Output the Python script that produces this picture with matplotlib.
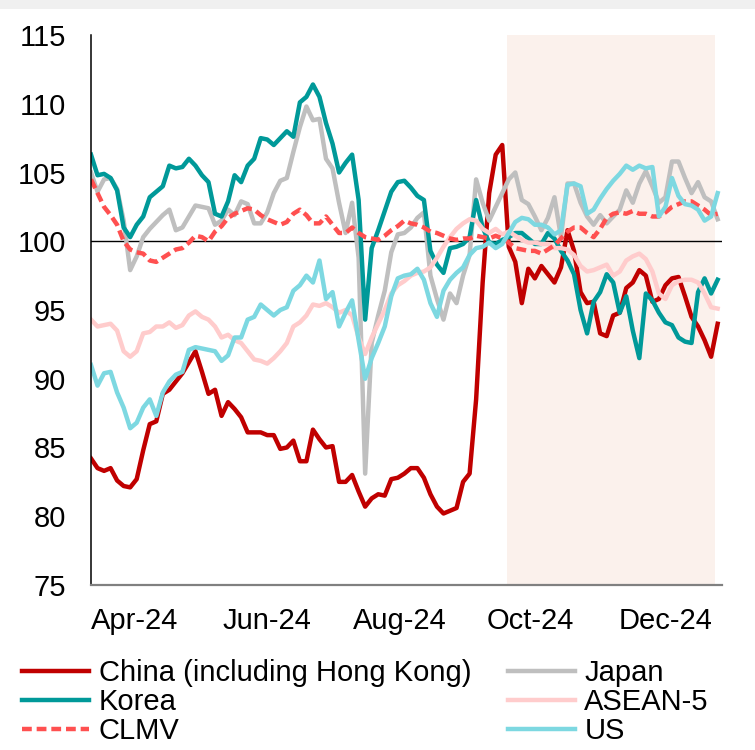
#!/usr/bin/env python
"""plot.py — equity indices rebased to 100, with the post-stimulus window shaded."""
import matplotlib
matplotlib.use("Agg")
import matplotlib.dates as mdates
import matplotlib.pyplot as plt
import pandas as pd
from matplotlib.patches import Rectangle

OUT = "out.png"

# one reading every 3 calendar days
DATES = pd.date_range("2024-04-02", periods=97, freq="3D")

china = [84.2, 83.5, 83.3, 83.5, 82.6, 82.2, 82.1, 82.7, 84.8, 86.7,
         86.9, 88.9, 89.2, 89.8, 90.4, 91.2, 92.0, 90.5, 88.9, 89.2,
         87.3, 88.3, 87.8, 87.2, 86.1, 86.1, 86.1, 85.9, 85.9, 84.9,
         85.0, 85.5, 84.0, 84.0, 86.3, 85.6, 85.0, 85.1, 82.5, 82.5,
         83.0, 81.8, 80.7, 81.3, 81.6, 81.5, 82.7, 82.8, 83.1, 83.5,
         83.5, 82.8, 81.6, 80.7, 80.2, 80.4, 80.6, 82.5, 83.1, 88.5,
         97.0, 103.5, 106.3, 107.0, 99.6, 98.5, 95.5, 98.0, 97.3, 98.2,
         97.6, 97.0, 98.1, 100.8, 99.3, 96.3, 95.5, 95.6, 93.3, 93.1,
         94.6, 94.8, 96.6, 97.0, 97.9, 97.5, 95.6, 95.8, 96.8, 97.3,
         97.4, 96.0, 94.5, 93.8, 92.8, 91.6, 94.0]
korea = [106.3, 104.8, 104.9, 104.6, 103.7, 101.0, 100.3, 101.2, 101.8, 103.2,
         103.6, 104.0, 105.5, 105.3, 105.4, 106.0, 105.5, 104.8, 104.3, 102.0,
         101.8, 102.9, 104.8, 104.3, 105.5, 106.0, 107.5, 107.4, 107.0, 107.5,
         108.0, 107.6, 110.1, 110.5, 111.4, 110.5, 108.6, 107.1, 105.0, 105.7,
         106.3, 103.0, 94.3, 99.5, 100.8, 102.2, 103.6, 104.3, 104.4, 103.9,
         103.3, 103.0, 99.3, 98.3, 97.7, 99.5, 99.6, 99.8, 100.3, 103.0,
         101.0, 99.9, 99.8, 100.1, 100.3, 100.6, 100.6, 100.2, 99.8, 99.8,
         100.6, 100.2, 99.3, 98.6, 97.6, 95.0, 93.3, 95.6, 96.3, 97.6,
         97.0, 94.8, 96.0, 93.5, 91.5, 96.2, 95.7, 94.8, 94.1, 93.9,
         93.0, 92.7, 92.6, 96.3, 97.3, 96.2, 97.2]
clmv = [104.5, 103.5, 102.5, 101.9, 101.2, 100.0, 99.4, 99.2, 99.1, 98.6,
        98.5, 98.8, 99.1, 99.4, 99.5, 99.9, 100.4, 100.3, 100.0, 100.7,
        101.1, 101.7, 102.0, 102.2, 102.4, 102.3, 101.9, 101.6, 101.4, 101.2,
        101.4, 102.0, 102.3, 101.9, 101.3, 101.3, 101.8, 101.2, 100.6, 100.6,
        101.0, 100.6, 100.3, 100.2, 100.1, 100.4, 100.8, 101.1, 101.5, 101.3,
        101.2, 101.0, 100.7, 100.6, 100.4, 100.2, 100.1, 100.2, 100.2, 100.4,
        100.3, 100.2, 100.4, 100.2, 99.9, 99.5, 99.4, 99.3, 99.3, 99.1,
        99.4, 99.7, 100.2, 100.7, 101.0, 101.0, 100.6, 100.3, 100.9, 101.7,
        102.0, 102.1, 102.0, 102.2, 102.0, 102.0, 101.8, 101.8, 102.1, 102.5,
        102.7, 102.9, 102.9, 102.6, 102.3, 101.9, 102.0]
japan = [105.0, 103.6, 104.5, 104.6, 103.8, 101.5, 97.9, 98.9, 100.3, 100.9,
         101.4, 101.9, 102.3, 100.8, 101.0, 101.8, 102.6, 102.5, 102.4, 101.2,
         101.5, 102.3, 101.9, 102.9, 102.7, 101.3, 101.3, 102.1, 103.5, 104.4,
         104.6, 106.5, 108.3, 109.8, 108.8, 108.9, 106.0, 105.3, 102.8, 100.6,
         102.8, 98.8, 83.1, 92.6, 94.6, 96.4, 99.2, 100.5, 100.6, 101.0,
         101.7, 102.1, 97.5, 95.8, 94.3, 96.2, 95.5, 97.5, 99.0, 104.5,
         102.8, 101.5, 102.5, 103.5, 104.5, 105.0, 103.0, 102.7, 101.8, 100.8,
         101.7, 103.2, 100.3, 104.2, 104.2, 102.8, 101.8, 101.2, 101.9, 101.3,
         101.8, 102.3, 103.7, 102.8, 104.2, 105.1, 104.0, 102.8, 103.2, 105.8,
         105.8, 104.6, 103.5, 104.3, 103.2, 102.9, 101.6]
asean5 = [94.3, 93.8, 93.9, 94.0, 93.5, 92.0, 91.6, 92.0, 93.3, 93.4,
          93.8, 93.8, 94.1, 93.7, 93.9, 94.6, 94.9, 94.5, 94.3, 93.8,
          93.0, 93.2, 92.8, 92.6, 92.0, 91.4, 91.3, 91.1, 91.5, 92.0,
          92.6, 93.8, 94.1, 94.6, 95.4, 95.3, 95.5, 95.2, 94.8, 95.0,
          94.6, 93.0, 91.8, 93.0, 94.0, 95.0, 96.2, 96.8, 97.1, 97.5,
          97.7, 97.8, 98.1, 98.8, 99.6, 100.3, 100.9, 101.3, 101.6, 101.5,
          100.9, 100.6, 100.9, 100.5, 100.7, 100.4, 100.1, 99.9, 99.9, 99.8,
          99.8, 99.5, 99.5, 99.4, 99.0, 98.2, 97.8, 97.9, 98.1, 98.3,
          97.5, 97.8, 98.6, 98.9, 99.1, 98.7, 97.8, 96.2, 95.8, 96.8,
          97.1, 97.2, 97.2, 97.0, 96.2, 95.2, 95.1]
us = [91.0, 89.5, 90.4, 90.5, 89.0, 87.9, 86.4, 86.8, 87.9, 88.5,
      87.3, 89.0, 89.8, 90.3, 90.5, 92.1, 92.3, 92.2, 92.1, 92.0,
      91.3, 91.7, 93.0, 93.0, 94.3, 94.5, 95.4, 95.0, 94.6, 95.0,
      95.2, 96.4, 96.8, 97.5, 97.0, 98.6, 95.8, 96.3, 93.8, 94.8,
      95.7, 92.8, 90.0, 91.5, 92.6, 93.8, 96.0, 97.3, 97.5, 97.6,
      98.0, 97.2, 95.5, 94.5, 96.4, 97.2, 97.7, 98.1, 99.0, 99.5,
      99.6, 99.9, 99.5, 99.8, 100.6, 101.4, 101.7, 101.6, 101.2, 101.2,
      101.0, 100.5, 100.8, 104.1, 104.2, 104.0, 102.0, 102.3, 103.1, 103.8,
      104.4, 104.9, 105.5, 105.2, 105.5, 105.3, 105.4, 101.8, 102.5, 104.6,
      103.3, 102.7, 102.6, 102.3, 101.5, 101.8, 103.5]

SHADE = ("2024-10-10", "2025-01-14")
XLIM = ("2024-04-02", "2025-01-17")
XTICKS = ["2024-04-22", "2024-06-22", "2024-08-22", "2024-10-21", "2024-12-22"]
YTICKS = [75, 80, 85, 90, 95, 100, 105, 110, 115]

# (label, values, colour, dashed) in the workbook's series order; later ones draw on top
SERIES = [("China (including Hong Kong)", china, "#C00000", False),
          ("Japan", japan, "#BFBFBF", False),
          ("Korea", korea, "#009999", False),
          ("ASEAN-5", asean5, "#FFCCCC", False),
          ("CLMV", clmv, "#FF5050", True),
          ("US", us, "#7DD8E1", False)]
LEGEND_ORDER = [0, 2, 4, 1, 3, 5]  # column-major fill gives the row-wise layout


def main():
    plt.rcParams["font.family"] = ["Liberation Sans", "DejaVu Sans"]
    fs = 21
    fig = plt.figure(figsize=(7.55, 7.5), dpi=100)
    fig.add_artist(Rectangle((0, 1 - 9 / 750), 1, 9 / 750, transform=fig.transFigure,
                             color="#F0F0F0", lw=0))
    ax = fig.add_axes([91 / 755, 1 - 585 / 750, 631 / 755, 550 / 750])

    ax.axvspan(pd.Timestamp(SHADE[0]), pd.Timestamp(SHADE[1]), color="#FBF1EC", lw=0, zorder=0)
    ax.axhline(100, color="black", lw=1.0, zorder=1)

    lines = []
    for lab, vals, col, dashed in SERIES:
        ln, = ax.plot(DATES, vals, color=col, lw=3.2, label=lab, zorder=2,
                      solid_joinstyle="round")
        if dashed:
            ln.set_dashes((2.2, 1.1))
        lines.append(ln)

    ax.set_xlim(pd.Timestamp(XLIM[0]), pd.Timestamp(XLIM[1]))
    ax.set_ylim(75, 115)
    ax.set_yticks(YTICKS)
    ax.set_xticks(pd.to_datetime(XTICKS))
    ax.xaxis.set_major_formatter(mdates.DateFormatter("%b-%y"))
    ax.tick_params(axis="y", length=0, pad=18, labelsize=fs)
    ax.tick_params(axis="x", length=0, pad=16, labelsize=fs)
    for s in ("top", "right"):
        ax.spines[s].set_visible(False)
    ax.spines["left"].set_color("black")
    ax.spines["left"].set_linewidth(1.1)
    ax.spines["bottom"].set_color("#808080")
    ax.spines["bottom"].set_linewidth(1.6)

    fig.legend([lines[i] for i in LEGEND_ORDER], [SERIES[i][0] for i in LEGEND_ORDER],
               ncol=2, loc="upper left", bbox_to_anchor=(22 / 755, 1 - 659 / 750),
               frameon=False, fontsize=fs, handlelength=2.3, handletextpad=0.33,
               columnspacing=1.25, labelspacing=0.04, borderpad=0, borderaxespad=0)

    fig.savefig(OUT, dpi=100)
    plt.close(fig)


if __name__ == "__main__":
    main()
